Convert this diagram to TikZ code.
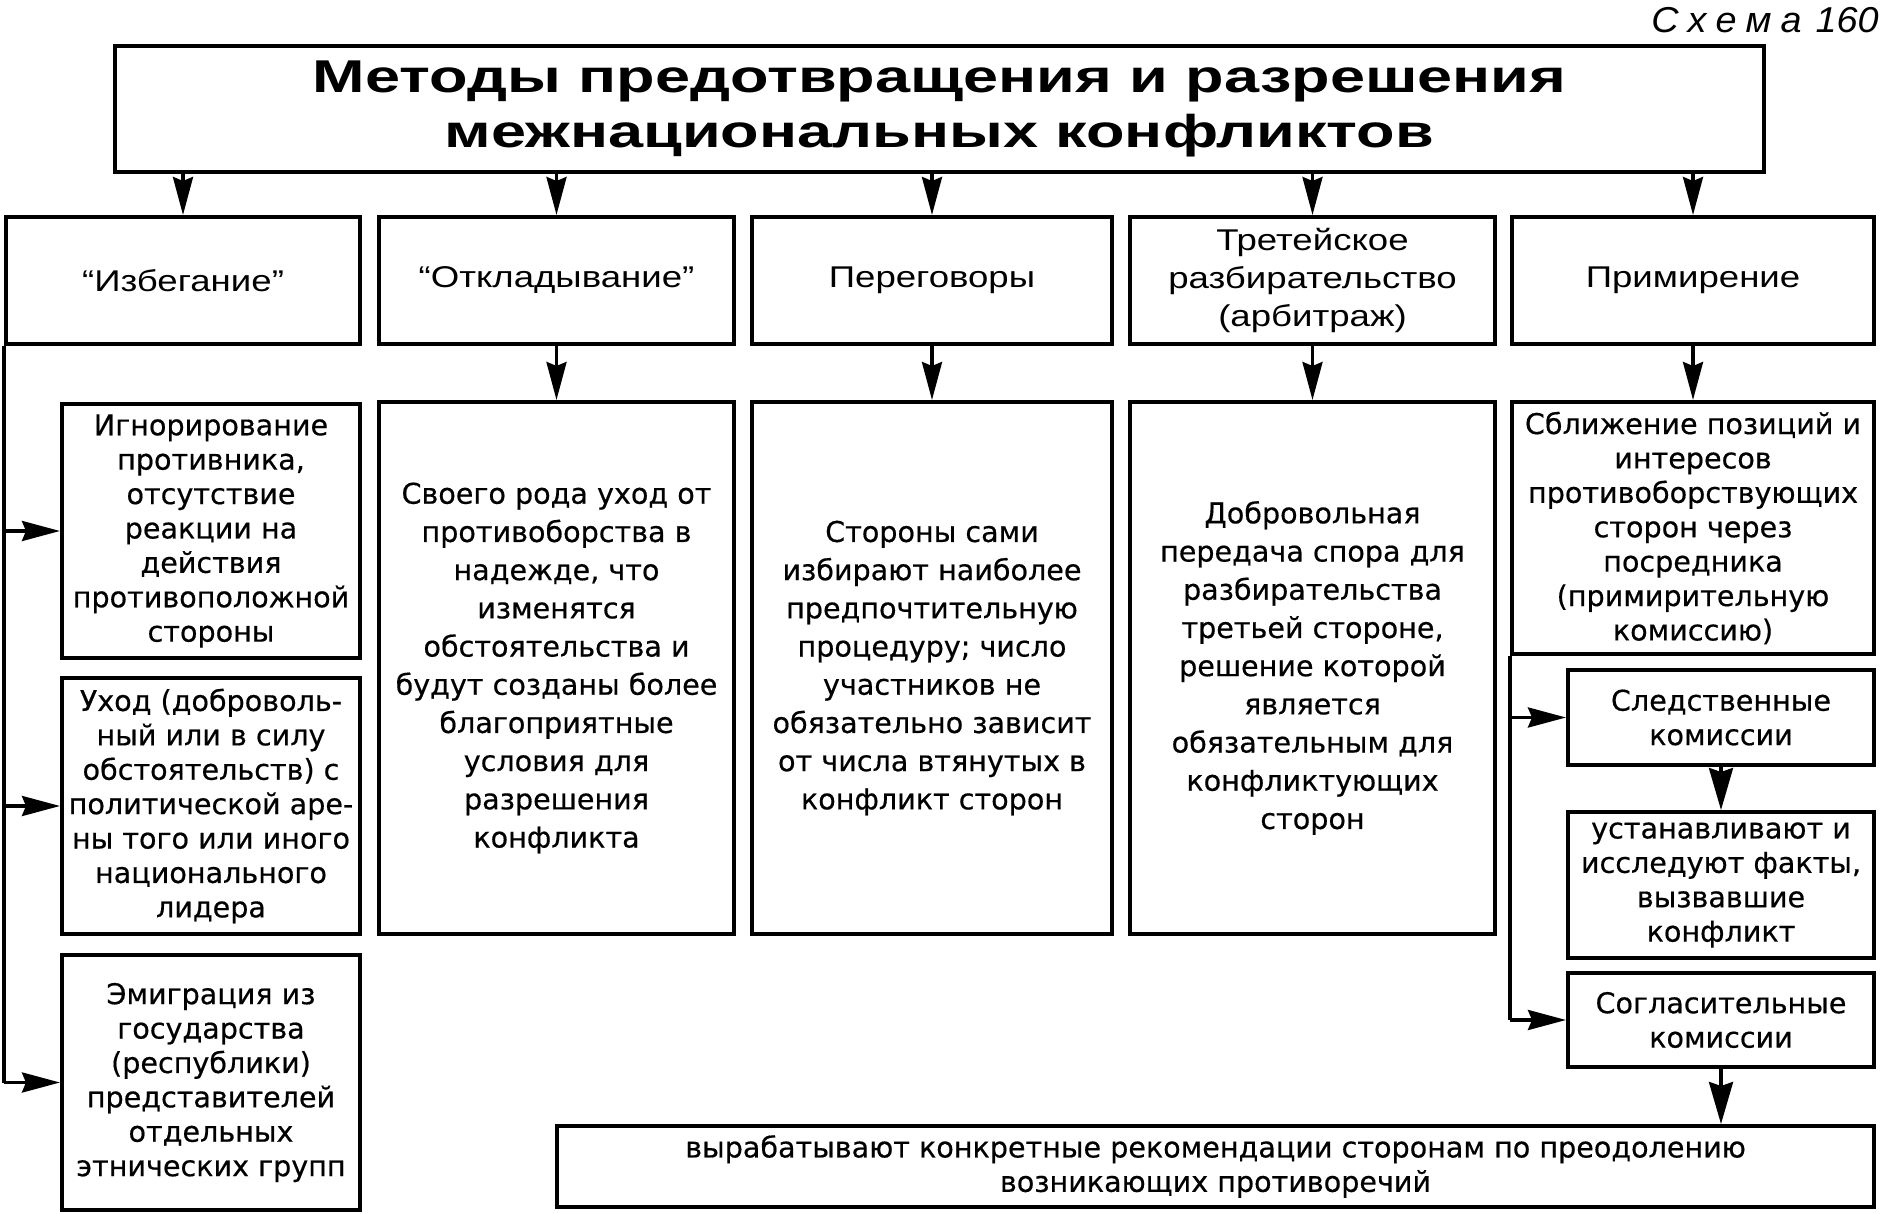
\documentclass[tikz,border=0pt]{standalone}
\usepackage{fontspec}
\setmainfont{DejaVu Sans}
\newfontfamily\bodyfont[FakeBold=0.5]{DejaVu Sans}
\newfontfamily\headfont[FakeStretch=1.22]{Liberation Sans}
\newfontfamily\titlefont[FakeStretch=1.37]{Liberation Sans}
\newfontfamily\schfont[FakeStretch=1.05]{Liberation Sans}
\usetikzlibrary{arrows.meta}
\begin{document}
\begin{tikzpicture}[x=0.5pt,y=-0.5pt,
  bx/.style={draw, line width=2pt, inner sep=0pt, align=center},
  rb/.style args={#1/#2/#3/#4}{minimum width={((#3)-(#1))*0.5pt},
     minimum height={((#4)-(#2))*0.5pt}, at={({((#1)+(#3))/2},{((#2)+(#4))/2})}},
  body/.style={font=\bodyfont\fontsize{14.3}{17.2}\selectfont},
  bodyw/.style={font=\bodyfont\fontsize{14.3}{19.1}\selectfont},
  head/.style={font=\headfont\fontsize{15}{19.2}\selectfont},
  ln/.style={line width=1.7pt},
  arr/.style={line width=1.7pt, -{Stealth[length=19pt,width=10pt,inset=2pt]}},
  arrb/.style={line width=1.7pt, -{Stealth[length=21pt,width=12pt,inset=2pt]}}]
\useasboundingbox (0,0) rectangle (1881,1214);
\fill[white] (0,0) rectangle (1881,1214);

\node[anchor=north east, inner sep=0pt, font=\schfont\itshape\fontsize{18}{20}\selectfont] (sch) at (1879,7)
  {С\hspace{4.5pt}х\hspace{4.5pt}е\hspace{4.5pt}м\hspace{4.5pt}а\hspace{7pt}160};

\node[bx, rb=115/46/1764/172, font=\titlefont\bfseries\fontsize{23}{27.6}\selectfont] (t)
  {Методы предотвращения и разрешения\\межнациональных конфликтов};

% row 2
\node[bx, head, rb=6/217/360/344] (b1) {“Избегание”};
\node[bx, head, rb=379/217/734/344] (b2) {“Откладывание”};
\node[bx, head, rb=752/217/1112/344] (b3) {Переговоры};
\node[bx, head, rb=1130/217/1495/344] (b4) {Третейское\\разбирательство\\(арбитраж)};
\node[bx, head, rb=1512/217/1874/344] (b5) {Примирение};

% left column
\node[bx, body, rb=62/404/360/658] (l1)
  {Игнорирование\\противника,\\отсутствие\\реакции на\\действия\\противоположной\\стороны};
\node[bx, body, rb=62/678/360/934] (l2)
  {Уход (доброволь-\\ный или в силу\\обстоятельств) с\\политической аре-\\ны того или иного\\национального\\лидера};
\node[bx, body, rb=62/955/360/1210] (l3)
  {Эмиграция из\\государства\\(республики)\\представителей\\отдельных\\этнических групп};

% row 3
\node[bx, bodyw, rb=379/402/734/934] (d2)
  {Своего рода уход от\\противоборства в\\надежде, что\\изменятся\\обстоятельства и\\будут созданы более\\благоприятные\\условия для\\разрешения\\конфликта};
\node[bx, bodyw, rb=752/402/1112/934] (d3)
  {Стороны сами\\избирают наиболее\\предпочтительную\\процедуру; число\\участников не\\обязательно зависит\\от числа втянутых в\\конфликт сторон};
\node[bx, bodyw, rb=1130/402/1495/934] (d4)
  {Добровольная\\передача спора для\\разбирательства\\третьей стороне,\\решение которой\\является\\обязательным для\\конфликтующих\\сторон};
\node[bx, body, rb=1512/402/1874/654] (d5)
  {Сближение позиций и\\интересов\\противоборствующих\\сторон через\\посредника\\(примирительную\\комиссию)};

% right column
\node[bx, body, rb=1568/670/1874/765] (s1) {Следственные\\комиссии};
\node[bx, body, rb=1568/812/1874/958] (s2) {устанавливают и\\исследуют факты,\\вызвавшие\\конфликт};
\node[bx, body, rb=1568/973/1874/1067] (s3) {Согласительные\\комиссии};

\node[bx, body, rb=557/1126/1874/1207] (bot)
  {вырабатывают конкретные рекомендации сторонам по преодолению\\возникающих противоречий};

% connectors title -> row 2
\foreach \b in {b1,b2,b3,b4,b5}
  \draw[arr] (\b.north |- t.south) -- (\b.north);
% row 2 -> row 3
\draw[arr] (b2.south) -- (d2.north);
\draw[arr] (b3.south) -- (d3.north);
\draw[arr] (b4.south) -- (d4.north);
\draw[arr] (b5.south) -- (d5.north);

% left trunk
\coordinate (lt) at (b1.south west);
\draw[ln] (lt) -- (lt |- l3.west);
\draw[arr] (lt |- l1.west) -- (l1.west);
\draw[arr] (lt |- l2.west) -- (l2.west);
\draw[arr] (lt |- l3.west) -- (l3.west);

% right trunk
\coordinate (rt) at (d5.south west);
\draw[ln] (rt) -- (rt |- s3.west);
\draw[arr] (rt |- s1.west) -- (s1.west);
\draw[arr] (rt |- s3.west) -- (s3.west);
\draw[arrb] (s1.south) -- (s2.north);
\draw[arrb] (s3.south) -- (s3.south |- bot.north);
\end{tikzpicture}
\end{document}
